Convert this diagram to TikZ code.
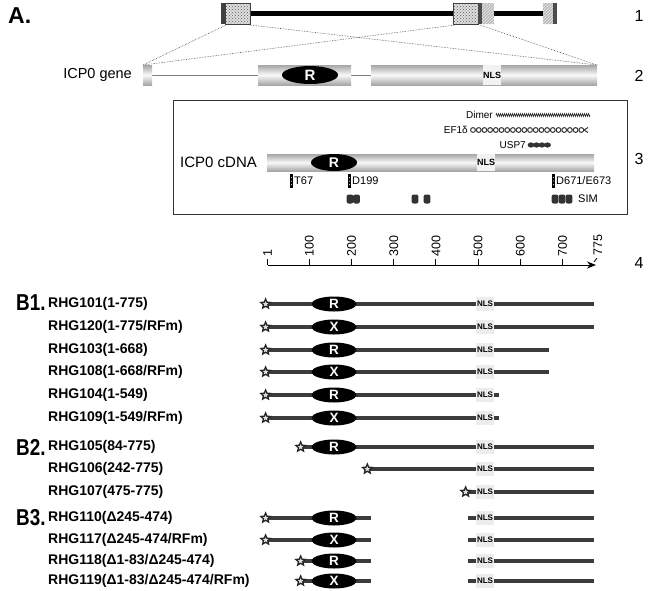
\documentclass[tikz,border=0pt]{standalone}
\usepackage{fontspec}
\setmainfont{Liberation Sans}
\usetikzlibrary{shapes.geometric,patterns,arrows.meta,decorations.pathmorphing}
\definecolor{consgray}{HTML}{3C3C3C}
\newcommand\rxx[1]{267.6+0.422*(#1-1)}
\newcommand\consseg[3]{\draw[cons] ({\rxx{#2}},#1) -- ({\rxx{#3}},#1);}
\newcommand\consR[3]{\node[rell] (#1) at (334,#2) {#3};}
\newcommand\consNLS[2]{\node[nlsbox] (#1) at (485,#2) {NLS};}
\newcommand\consStar[3]{\node[starmk] (#1) at ({\rxx{#3}-2},#2) {};}
\newcommand\consLab[3]{\node[lbl] (#1) at (48,#2) {#3};}
\newcommand\cmark[2]{%
  \fill[black] ({#1-1.9},174) rectangle ({#1+1.9},188);
  \foreach \yy in {177.5,181,184.5} \fill[white] (#1,\yy) circle (0.5pt);
  \node[small, anchor=west] (#2) at ({#1+2.5},181) {#2};}
\newcommand\simdot[1]{\fill[black!80, rounded corners=2pt] ({#1-3.4},194.5) rectangle ({#1+3.4},203.5);}
\tikzset{
  lbl/.style={font=\fontsize{14}{16}\selectfont\bfseries, anchor=west, inner sep=0},
  sec/.style={font=\fontsize{23}{26}\selectfont\bfseries, anchor=west, inner sep=0},
  rownum/.style={font=\fontsize{16}{18}\selectfont, inner sep=0},
  small/.style={font=\fontsize{11}{12}\selectfont, inner sep=0},
  tiny/.style={font=\fontsize{10}{11}\selectfont, inner sep=0},
  cons/.style={line width=4pt, draw=consgray},
  starmk/.style={star, star points=5, star point ratio=2.2, minimum size=10pt, inner sep=0, fill=gray!25, draw=black!85, line width=1.3pt},
  rell/.style={ellipse, fill=black, minimum width=45pt, minimum height=15pt, inner sep=0, text=white, font=\fontsize{13.5}{13.5}\selectfont\bfseries},
  nlsbox/.style={fill=gray!15, minimum width=18pt, minimum height=14pt, inner sep=0, font=\fontsize{8}{8}\selectfont\bfseries},
  genebar/.style={top color=gray!70, bottom color=gray!70, middle color=gray!5},
  guide/.style={densely dotted, gray!60!black, line width=0.6pt},
  axislbl/.style={font=\fontsize{12.5}{12.5}\selectfont, rotate=90, anchor=west, inner sep=0},
}
\begin{document}
\begin{tikzpicture}[x=1pt,y=-1pt]
\useasboundingbox (0,0) rectangle (650,590);
% ---------- section labels ----------
\node[sec] (A) at (8,16) {A.};
\node[sec, xscale=0.82] (B1) at (16,303) {B1.};
\node[sec, xscale=0.82] (B2) at (16,447) {B2.};
\node[sec, xscale=0.82] (B3) at (16,518) {B3.};
\node[rownum] (n1) at (639,16) {1};
\node[rownum] (n2) at (639,76) {2};
\node[rownum] (n3) at (639,159) {3};
\node[rownum] (n4) at (639,263) {4};
% ---------- row 1 ----------
\draw[line width=5pt] (250,13) -- (455,13);
\draw[line width=5pt] (494,13) -- (545,13);
\fill[gray!25] (225,3) rectangle (250,24);
\fill[pattern=crosshatch dots, pattern color=gray!70!black] (225,3) rectangle (250,24);
\draw[gray!50!black, line width=0.6pt] (225,3) rectangle (250,24);
\fill[black!75] (221,3) rectangle (225,24);
\fill[gray!25] (453,3) rectangle (478,24);
\fill[pattern=crosshatch dots, pattern color=gray!70!black] (453,3) rectangle (478,24);
\draw[gray!50!black, line width=0.6pt] (453,3) rectangle (478,24);
\fill[black!70] (478,3) rectangle (482,24);
\fill[gray!55] (482,3) rectangle (494,24);
\fill[pattern=north east lines, pattern color=gray!15] (482,3) rectangle (494,24);
\fill[gray!55] (543,3) rectangle (553,24);
\fill[pattern=north east lines, pattern color=gray!15] (543,3) rectangle (553,24);
\fill[black!70] (553,3) rectangle (557,24);
\coordinate (la) at (226,25);
\coordinate (lb) at (250,25);
\coordinate (ra) at (455,25);
\coordinate (rb) at (480,25);
\coordinate (ga) at (143,65);
\coordinate (gb) at (597,65);
\draw[guide] (la) -- (ga);
\draw[guide] (lb) -- (gb);
\draw[guide] (ra) -- (ga);
\draw[guide] (rb) -- (gb);
% ---------- row 2 ----------
\node[font=\fontsize{14.5}{16}\selectfont, anchor=east, inner sep=0] (gene) at (132,75) {ICP0 gene};
\draw[gray, line width=1pt] (152,75) -- (258,75);
\draw[gray, line width=1pt] (351,75) -- (371,75);
\shade[genebar] (143,65) rectangle (152,85);
\shade[genebar] (258,65) rectangle (351,85);
\shade[genebar] (371,65) rectangle (597,85);
\fill[gray!10] (483,65) rectangle (501,85);
\node[font=\fontsize{9}{9}\selectfont\bfseries, inner sep=0] (nls2) at (492,75) {NLS};
\node[rell, minimum width=56pt, minimum height=18pt, font=\fontsize{15}{15}\selectfont\bfseries] (r2) at (310,75) {R};
% ---------- row 3 ----------
\draw[gray!40!black, line width=1pt] (173,100) rectangle (627,214);
\node[font=\fontsize{15}{16}\selectfont, anchor=west, inner sep=0] (cdna) at (180,162) {ICP0 cDNA};
\shade[genebar] (267,154) rectangle (594,171);
\fill[gray!10] (477,154) rectangle (495,171);
\node[font=\fontsize{9}{9}\selectfont\bfseries, inner sep=0] (nls3) at (486,162.5) {NLS};
\node[rell, minimum width=46pt, minimum height=17pt, font=\fontsize{14}{14}\selectfont\bfseries] (r3) at (334,162.5) {R};
\node[tiny, anchor=east] (dimer) at (493,115) {Dimer};
\draw[decorate, decoration={zigzag, segment length=2pt, amplitude=1.4pt}, gray!30!black, line width=0.6pt] (496,115) -- (590,115);
\node[tiny, anchor=east] (ef) at (468,130) {EF1δ};
\foreach \i in {0,...,19} \draw[line width=1pt, black!80] ({473+\i*5.7},130) circle (2.4pt);
\draw[line width=1pt, black!80] (588,127.5) -- (584,130) -- (588,132.5);
\node[tiny, anchor=east] (usp) at (526,145) {USP7};
\foreach \i in {0,...,3} \fill[black!80] ({531+\i*5.5},145) ellipse (3.4pt and 2.6pt);
\cmark{291.5}{T67}
\cmark{349.5}{D199}
\cmark{553.5}{D671/E673}
\simdot{350}\simdot{356.5}
\simdot{415}\simdot{427}
\simdot{555}\simdot{562}\simdot{569}
\node[small, anchor=west] (sim) at (578,199) {SIM};
% ---------- row 4 axis ----------
\coordinate (ax0) at (267.6,265);
\coordinate (ax1) at (596,265);
\draw[line width=1pt, -{Stealth[length=9pt,width=7pt]}] (ax0) -- (ax1);
\foreach \v in {1,100,200,300,400,500,600,700} {
  \draw[line width=1pt] ({\rxx{\v}},265) -- ({\rxx{\v}},259);
  \node[axislbl] (t\v) at ({\rxx{\v}},257) {\v};
}
\draw[line width=0.8pt] (594,262) -- (597,258);
\node[axislbl] (t775) at (598,256) {775};
% ---------- B1 ----------
\consseg{304}{1}{775}\consR{r101}{304}{R}\consNLS{s101}{304}\consStar{st101}{304}{1}\consLab{l101}{304}{RHG101(1-775)}
\consseg{327}{1}{775}\consR{r120}{327}{X}\consNLS{s120}{327}\consStar{st120}{327}{1}\consLab{l120}{327}{RHG120(1-775/RFm)}
\consseg{350}{1}{668}\consR{r103}{350}{R}\consNLS{s103}{350}\consStar{st103}{350}{1}\consLab{l103}{350}{RHG103(1-668)}
\consseg{372}{1}{668}\consR{r108}{372}{X}\consNLS{s108}{372}\consStar{st108}{372}{1}\consLab{l108}{372}{RHG108(1-668/RFm)}
\consseg{395}{1}{549}\consR{r104}{395}{R}\consNLS{s104}{395}\consStar{st104}{395}{1}\consLab{l104}{395}{RHG104(1-549)}
\consseg{418}{1}{549}\consR{r109}{418}{X}\consNLS{s109}{418}\consStar{st109}{418}{1}\consLab{l109}{418}{RHG109(1-549/RFm)}
% ---------- B2 ----------
\consseg{447}{84}{775}\consR{r105}{447}{R}\consNLS{s105}{447}\consStar{st105}{447}{84}\consLab{l105}{447}{RHG105(84-775)}
\consseg{469}{242}{775}\consNLS{s106}{469}\consStar{st106}{469}{242}\consLab{l106}{469}{RHG106(242-775)}
\consseg{492}{475}{775}\consNLS{s107}{492}\consStar{st107}{492}{475}\consLab{l107}{492}{RHG107(475-775)}
% ---------- B3 ----------
\consseg{518}{1}{245}\consseg{518}{475}{775}\consR{r110}{518}{R}\consNLS{s110}{518}\consStar{st110}{518}{1}\consLab{l110}{518}{RHG110(Δ245-474)}
\consseg{540}{1}{245}\consseg{540}{475}{775}\consR{r117}{540}{X}\consNLS{s117}{540}\consStar{st117}{540}{1}\consLab{l117}{540}{RHG117(Δ245-474/RFm)}
\consseg{561}{84}{245}\consseg{561}{475}{775}\consR{r118}{561}{R}\consNLS{s118}{561}\consStar{st118}{561}{84}\consLab{l118}{561}{RHG118(Δ1-83/Δ245-474)}
\consseg{581}{84}{245}\consseg{581}{475}{775}\consR{r119}{581}{X}\consNLS{s119}{581}\consStar{st119}{581}{84}\consLab{l119}{581}{RHG119(Δ1-83/Δ245-474/RFm)}
\end{tikzpicture}
\end{document}
